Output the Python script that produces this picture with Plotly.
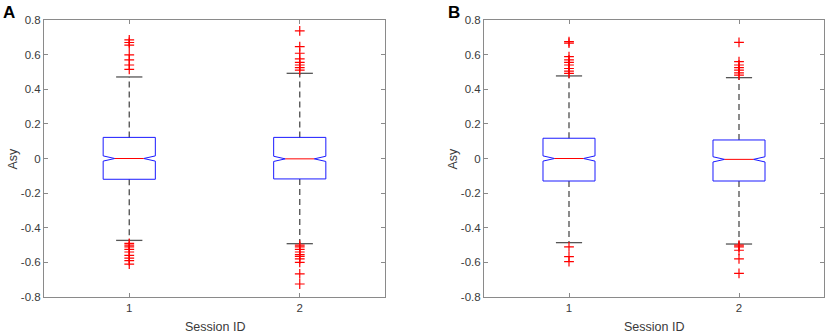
import plotly.graph_objects as go

# ---------------- data ----------------
sessions = [1, 2]

# Panel A
a_q1 = [-0.120, -0.118]
a_med = [0.000, -0.002]
a_q3 = [0.122, 0.122]
a_lo = [-0.473, -0.492]
a_hi = [0.471, 0.492]
a_notch = [0.015, 0.015]
a_out_1 = [0.515, 0.54, 0.57, 0.598, 0.655, 0.67, 0.685,
           -0.49, -0.50, -0.51, -0.525, -0.54, -0.56, -0.575, -0.59, -0.61]
a_out_2 = [0.511, 0.525, 0.54, 0.555, 0.575, 0.608, 0.646, 0.737,
           -0.50, -0.51, -0.525, -0.54, -0.555, -0.565, -0.58, -0.60, -0.667, -0.725]

# Panel B
b_q1 = [-0.130, -0.130]
b_med = [0.000, -0.005]
b_q3 = [0.117, 0.107]
b_lo = [-0.486, -0.494]
b_hi = [0.477, 0.467]
b_notch = [0.015, 0.015]
b_out_1 = [0.492, 0.505, 0.52, 0.54, 0.555, 0.57, 0.588, 0.667, 0.675,
           -0.51, -0.567, -0.596]
b_out_2 = [0.482, 0.495, 0.51, 0.525, 0.54, 0.56, 0.671,
           -0.50, -0.51, -0.53, -0.58, -0.663]

y_tickvals = [0.8, 0.6, 0.4, 0.2, 0, -0.2, -0.4, -0.6, -0.8]
y_ticktext = ["0.8", "0.6", "0.4", "0.2", "0", "-0.2", "-0.4", "-0.6", "-0.8"]
x_ticktext = ["1", "2"]

# ---------------- style ----------------
W, H = 829, 335
BW = 0.153     # half box width
NW = 0.085     # half width at the notch
CW = 0.077     # half cap width
AX = "#8a8a8a"
TXT = "#3a3a3a"
FONT = "Liberation Sans, Arial, sans-serif"

fig = go.Figure()


def add_panel(xa, ya, q1, med, q3, lo, hi, notch, outs):
    for i, s in enumerate(sessions):
        for a, b in ((q3[i], hi[i]), (q1[i], lo[i])):
            fig.add_trace(go.Scatter(x=[s, s], y=[a, b], mode="lines",
                                     line=dict(color="#4d4d4d", width=1.3, dash="6px,4px"),
                                     xaxis=xa, yaxis=ya, hoverinfo="skip", showlegend=False))
        for v in (hi[i], lo[i]):
            fig.add_trace(go.Scatter(x=[s - CW, s + CW], y=[v, v], mode="lines",
                                     line=dict(color="#555555", width=1.3),
                                     xaxis=xa, yaxis=ya, hoverinfo="skip", showlegend=False))
        m, n = med[i], notch[i]
        bx = [s - BW, s + BW, s + BW, s + NW, s + BW, s + BW, s - BW, s - BW, s - NW, s - BW, s - BW]
        by = [q3[i], q3[i], m + n, m, m - n, q1[i], q1[i], m - n, m, m + n, q3[i]]
        fig.add_trace(go.Scatter(x=bx, y=by, mode="lines",
                                 line=dict(color="#1a1aff", width=1),
                                 xaxis=xa, yaxis=ya, hoverinfo="skip", showlegend=False))
        fig.add_trace(go.Scatter(x=[s - NW, s + NW], y=[m, m], mode="lines",
                                 line=dict(color="#ff0000", width=1),
                                 xaxis=xa, yaxis=ya, hoverinfo="skip", showlegend=False))
        fig.add_trace(go.Scatter(x=[s] * len(outs[i]), y=outs[i], mode="markers",
                                 marker=dict(symbol="cross-thin", size=7,
                                             line=dict(color="#ff0000", width=1.2)),
                                 xaxis=xa, yaxis=ya, hoverinfo="skip", showlegend=False))


add_panel("x", "y", a_q1, a_med, a_q3, a_lo, a_hi, a_notch, [a_out_1, a_out_2])
add_panel("x2", "y2", b_q1, b_med, b_q3, b_lo, b_hi, b_notch, [b_out_1, b_out_2])

xcommon = dict(range=[0.5, 2.5], tickvals=sessions, ticktext=x_ticktext, automargin=False,
               showline=True, linecolor=AX, linewidth=1, mirror="ticks",
               ticks="inside", ticklen=4, tickcolor=AX, showgrid=False, zeroline=False,
               tickfont=dict(family=FONT, size=11.5, color=TXT))
ycommon = dict(range=[-0.8, 0.8], tickvals=y_tickvals, ticktext=y_ticktext, automargin=False,
               showline=True, linecolor=AX, linewidth=1, mirror="ticks",
               ticks="inside", ticklen=4, tickcolor=AX, showgrid=False, zeroline=False,
               tickfont=dict(family=FONT, size=11.5, color=TXT))

TOP, BOT = 20, 297
PANELS = [(44, 385), (484, 824)]


def px(x):
    return x / W


def py(y):
    return 1 - y / H


annotations = []
for (l, r), letter, lx in zip(PANELS, ["A", "B"], [1, 446]):
    annotations.append(dict(text="<b>%s</b>" % letter, x=px(lx), y=py(1), xref="paper", yref="paper",
                            showarrow=False, xanchor="left", yanchor="top",
                            font=dict(family=FONT, size=17, color="black")))
    annotations.append(dict(text="Session ID", x=px((l + r) / 2), y=py(327), xref="paper", yref="paper",
                            showarrow=False, xanchor="center", yanchor="middle",
                            font=dict(family=FONT, size=12.5, color=TXT)))
    annotations.append(dict(text="Asy", x=px(l - 32), y=py((TOP + BOT) / 2), xref="paper", yref="paper",
                            showarrow=False, xanchor="center", yanchor="middle", textangle=-90,
                            font=dict(family=FONT, size=12.5, color=TXT)))

fig.update_layout(
    width=W, height=H,
    margin=dict(l=0, r=0, t=0, b=0, autoexpand=False),
    paper_bgcolor="white", plot_bgcolor="white",
    xaxis=dict(domain=[px(44), px(385)], anchor="y", **xcommon),
    yaxis=dict(domain=[py(BOT), py(TOP)], anchor="x", **ycommon),
    xaxis2=dict(domain=[px(484), px(824)], anchor="y2", **xcommon),
    yaxis2=dict(domain=[py(BOT), py(TOP)], anchor="x2", **ycommon),
    annotations=annotations,
)

fig.write_html("out.html", config={"displayModeBar": False},
               post_script="document.body.style.margin='0px';document.body.style.overflow='hidden';")
